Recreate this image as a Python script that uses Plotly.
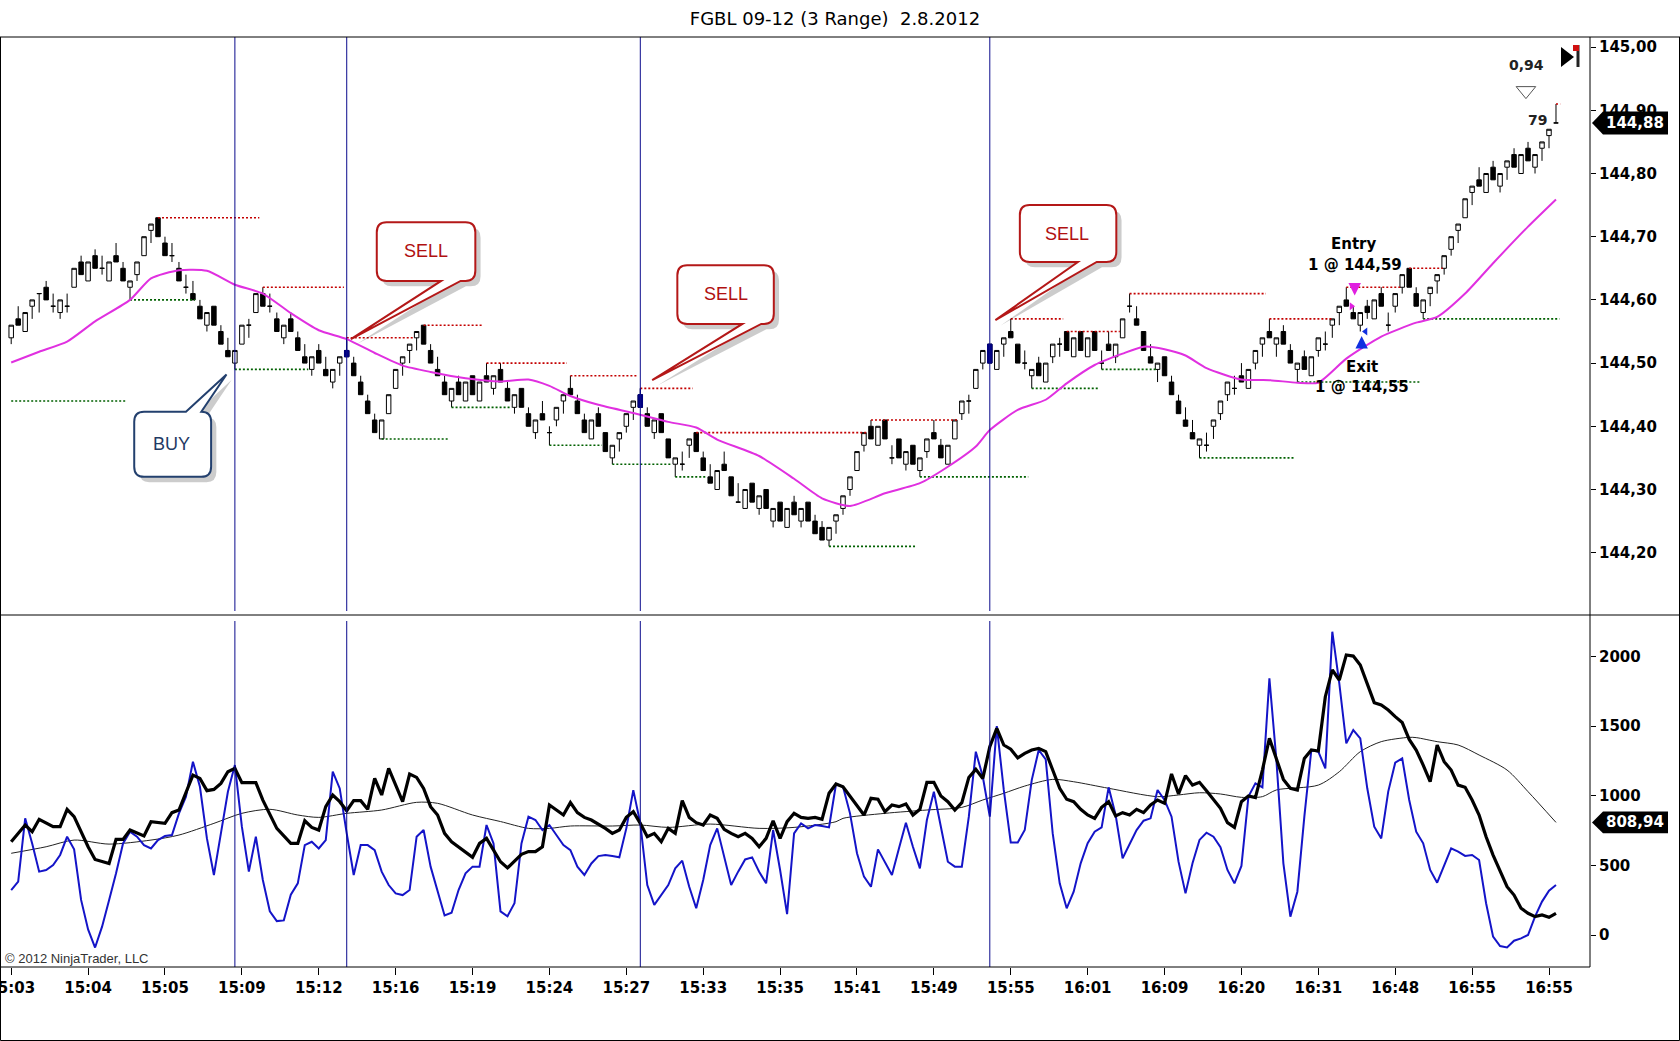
import plotly.graph_objects as go

# ------------------------------------------------------------------ data
BASE = 144.0      # prices stored as hundredths above 144.00
TICK = 0.01

time_labels = ["15:03", "15:04", "15:05", "15:09", "15:12", "15:16", "15:19",
               "15:24", "15:27", "15:33", "15:35", "15:41", "15:49", "15:55",
               "16:01", "16:09", "16:20", "16:31", "16:48", "16:55", "16:55"]
label_bars = list(range(0, 221, 11))

open_t = [54, 57, 55, 59, 61, 62, 59, 58, 59, 62,
          66, 63, 67, 65, 63, 67, 65, 62, 64, 67,
          71, 73, 69, 67, 65, 62, 61, 59, 56, 59,
          55, 52, 50, 53, 56, 58, 61, 59, 57, 54,
          57, 54, 51, 49, 52, 49, 47, 50, 52, 50,
          47, 44, 41, 38, 42, 46, 50, 52, 54, 56,
          52, 49, 47, 44, 47, 44, 48, 44, 48, 46,
          49, 46, 43, 46, 42, 39, 42, 39, 41, 44,
          46, 44, 41, 38, 42, 39, 35, 38, 40, 43,
          45, 42, 39, 42, 38, 34, 34, 37, 39, 35,
          32, 30, 34, 32, 28, 27, 31, 27, 30, 25,
          28, 24, 28, 25, 28, 25, 24, 22, 25, 27,
          30, 33, 37, 40, 37, 41, 35, 38, 34, 37,
          33, 36, 39, 37, 34, 38, 42, 44, 46, 50,
          53, 49, 53, 55, 53, 50, 48, 50, 47, 51,
          53, 55, 51, 55, 51, 55, 50, 53, 51, 54,
          59, 57, 55, 51, 49, 51, 47, 44, 41, 39,
          37, 37, 40, 42, 45, 46, 48, 46, 50, 53,
          55, 53, 55, 52, 49, 51, 48, 52, 53, 56,
          58, 60, 58, 56, 59, 57, 61, 56, 59, 62,
          65, 61, 58, 61, 63, 65, 68, 71, 73, 77,
          79, 77, 81, 78, 81, 83, 80, 84, 81, 84,
          86, 88]
high_t = [56, 59, 58, 60, 61, 63, 61, 60, 61, 65,
          67, 66, 68, 67, 66, 69, 66, 63, 66, 70,
          72, 73, 70, 69, 66, 64, 63, 60, 58, 59,
          56, 54, 52, 56, 57, 61, 62, 61, 58, 56,
          58, 55, 53, 51, 53, 51, 49, 51, 54, 51,
          48, 45, 42, 41, 45, 49, 51, 53, 55, 56,
          53, 51, 48, 46, 48, 47, 48, 47, 50, 48,
          50, 47, 45, 46, 43, 41, 44, 40, 43, 45,
          48, 45, 42, 41, 43, 39, 37, 39, 42, 44,
          46, 43, 41, 42, 38, 35, 36, 38, 39, 36,
          34, 33, 36, 32, 31, 30, 31, 29, 30, 27,
          28, 27, 29, 27, 28, 26, 25, 24, 26, 29,
          32, 36, 39, 41, 40, 41, 37, 38, 36, 37,
          35, 38, 41, 38, 37, 41, 44, 45, 49, 52,
          53, 52, 54, 57, 53, 52, 49, 51, 50, 53,
          54, 55, 54, 55, 54, 55, 52, 55, 53, 57,
          61, 59, 55, 53, 50, 51, 48, 45, 43, 41,
          38, 39, 41, 44, 47, 48, 50, 49, 52, 54,
          57, 54, 56, 53, 50, 52, 51, 54, 55, 57,
          59, 62, 59, 58, 60, 60, 62, 58, 61, 64,
          65, 62, 60, 62, 64, 67, 70, 72, 76, 78,
          81, 80, 82, 80, 82, 84, 83, 85, 83, 85,
          87, 91]
low_t = [53, 56, 55, 57, 58, 60, 58, 57, 58, 62,
         64, 63, 65, 64, 63, 66, 63, 60, 63, 67,
         69, 70, 67, 66, 63, 61, 60, 57, 55, 56,
         53, 51, 49, 53, 54, 58, 59, 58, 55, 53,
         55, 52, 50, 48, 50, 48, 46, 48, 51, 48,
         45, 42, 39, 38, 42, 46, 48, 50, 52, 53,
         50, 48, 45, 43, 45, 44, 45, 44, 47, 45,
         47, 44, 42, 43, 40, 38, 41, 37, 40, 42,
         45, 42, 39, 38, 40, 36, 34, 36, 39, 41,
         43, 40, 38, 39, 35, 32, 33, 35, 36, 33,
         31, 30, 33, 29, 28, 27, 28, 26, 27, 24,
         25, 24, 26, 24, 25, 23, 22, 21, 23, 26,
         29, 33, 36, 38, 37, 38, 34, 35, 33, 34,
         32, 35, 38, 35, 34, 38, 41, 42, 46, 49,
         50, 49, 51, 54, 50, 49, 46, 48, 47, 50,
         51, 52, 51, 52, 51, 52, 49, 52, 50, 54,
         58, 56, 52, 50, 47, 48, 45, 42, 40, 38,
         35, 36, 38, 41, 44, 45, 47, 46, 49, 51,
         54, 51, 53, 50, 47, 49, 48, 51, 52, 54,
         56, 59, 57, 55, 57, 57, 59, 55, 58, 61,
         62, 59, 57, 59, 61, 64, 67, 69, 73, 75,
         78, 77, 79, 77, 79, 81, 80, 82, 80, 82,
         84, 88]
close_t = [56, 56, 58, 60, 61, 60, 59, 60, 59, 65,
           64, 66, 65, 65, 66, 66, 63, 63, 66, 70,
           72, 70, 67, 67, 63, 62, 60, 57, 58, 56,
           53, 51, 52, 56, 56, 61, 59, 59, 55, 56,
           55, 52, 50, 51, 50, 48, 49, 51, 51, 48,
           45, 42, 39, 41, 45, 49, 51, 53, 55, 53,
           50, 48, 45, 46, 45, 47, 45, 47, 47, 48,
           47, 44, 45, 43, 40, 41, 41, 39, 43, 45,
           45, 42, 39, 41, 40, 36, 37, 39, 42, 44,
           43, 40, 41, 39, 35, 35, 34, 38, 36, 33,
           31, 33, 33, 29, 28, 30, 28, 29, 27, 27,
           25, 27, 26, 27, 25, 23, 22, 24, 26, 29,
           32, 36, 39, 38, 40, 38, 35, 35, 36, 34,
           35, 38, 38, 35, 37, 41, 44, 44, 49, 52,
           50, 52, 54, 54, 50, 50, 49, 48, 50, 53,
           53, 52, 54, 52, 54, 52, 50, 52, 53, 57,
           59, 56, 52, 50, 50, 48, 45, 42, 40, 38,
           38, 37, 41, 44, 47, 46, 47, 49, 52, 54,
           54, 54, 53, 50, 50, 49, 51, 54, 53, 57,
           59, 59, 57, 58, 58, 60, 59, 56, 61, 64,
           62, 59, 60, 62, 64, 67, 70, 72, 76, 78,
           78, 80, 79, 80, 82, 81, 83, 82, 83, 85,
           87, 88]
signal_bars = [48, 90, 140]          # sell-signal bars drawn in navy
signal_lines = [32, 48, 90, 140]     # vertical signal lines

# moving average (magenta)
sma_bar = [0, 4, 8, 12, 17, 20, 24, 28, 32, 36, 40, 44, 48, 52, 56, 60, 65, 70,
           74, 77, 80, 84, 89, 94, 98, 101, 107, 112, 116, 120, 125, 130, 134,
           138, 140, 144, 148, 151, 155, 159, 162, 165, 168, 171, 176, 180, 184,
           187, 191, 196, 201, 204, 208, 212, 217, 221]
sma_t = [50.1, 51.8, 53.4, 56.6, 60.0, 63.4, 64.7, 64.6, 62.4, 61.0, 57.9, 55.2,
         53.8, 51.6, 49.6, 48.6, 47.6, 47.1, 47.4, 46.4, 44.8, 43.4, 42.1, 40.7,
         39.8, 37.9, 35.3, 31.7, 28.6, 27.4, 29.4, 31.0, 33.6, 36.8, 39.4, 42.6,
         44.2, 46.8, 49.7, 51.5, 52.6, 52.2, 51.2, 49.2, 47.4, 47.3, 46.9, 46.9,
         50.7, 54.2, 56.4, 57.3, 61.0, 65.8, 71.6, 75.9]

# swing high / low levels (start bar, end bar, price ticks)
hi_start = [21, 36, 48, 59, 68, 80, 90, 98, 123, 143, 151, 160, 180, 191, 200, 221]
hi_end = [35.5, 47.6, 57.6, 67.4, 79.5, 89.5, 97.5, 122.6, 135.3, 150.5, 158.6,
          179.5, 189.1, 198.7, 204.8, 221.6]
hi_t = [73, 62, 54, 56, 50, 48, 46, 39, 41, 57, 55, 61, 57, 62, 65, 91]
lo_start = [0, 17, 32, 53, 63, 77, 86, 95, 117, 130, 146, 156, 170, 184, 202]
lo_end = [16.4, 26.3, 42.5, 62.5, 71.6, 84.5, 94.5, 99.5, 129.5, 145.5, 155.5,
          164, 183.5, 201.5, 221.5]
lo_t = [44, 60, 49, 38, 43, 37, 34, 32, 21, 32, 46, 49, 35, 47, 57]

# lower panel
slow_bar = [0, 2, 3, 4, 6, 7, 8, 9, 11, 12, 14, 15, 16, 17, 19, 20, 22, 23, 24,
            26, 27, 28, 29, 30, 31, 32, 33, 35, 36, 38, 40, 41, 42, 43, 44, 45,
            46, 47, 48, 49, 50, 51, 52, 53, 54, 56, 57, 58, 59, 60, 61, 62, 63,
            66, 67, 68, 70, 71, 73, 74, 75, 76, 77, 79, 80, 81, 82, 83, 85, 86,
            87, 88, 89, 90, 91, 92, 93, 94, 95, 96, 97, 98, 99, 100, 101, 102,
            103, 104, 105, 106, 107, 108, 109, 110, 111, 112, 113, 114, 115,
            116, 117, 118, 119, 120, 121, 122, 123, 124, 125, 126, 127, 128,
            129, 130, 131, 132, 133, 134, 135, 136, 137, 138, 139] + list(range(140, 222))
slow_val = [670, 790, 742, 831, 778, 778, 903, 850, 634, 543, 514, 687, 687, 754,
            711, 814, 802, 879, 898, 1149, 1125, 1037, 1046, 1089, 1173, 1197,
            1094, 1094, 969, 766, 658, 658, 821, 773, 754, 922, 1006, 958, 893,
            965, 965, 903, 1125, 1006, 1197, 958, 1156, 1132, 1053, 922, 862, 730,
            670, 558, 658, 694, 526, 482, 580, 599, 599, 634, 934, 862, 951, 879,
            845, 826, 766, 730, 754, 845, 886, 802, 706, 730, 670, 766, 730, 965,
            845, 807, 790, 862, 838, 759, 730, 706, 730, 694, 634, 694, 821, 694,
            814, 874, 845, 838, 845, 831, 1018, 1085, 1065, 998, 927, 862, 982,
            975, 886, 934, 922, 941, 862, 903, 1097, 1097, 998, 958, 898, 951,
            1132, 1190, 1125,
            1353, 1484, 1365, 1335, 1272, 1305, 1329, 1341, 1317, 1185,
            1054, 975, 958, 903, 862, 838, 917, 958, 855, 879,
            862, 903, 879, 934, 970, 946, 1157, 1013, 1145, 1077,
            1097, 1037, 975, 910, 807, 773, 958, 999, 987, 1185,
            1413, 1257, 1118, 1054, 1042, 1269, 1329, 1322, 1712, 1904,
            1832, 2012, 2004, 1940, 1808, 1669, 1652, 1616, 1569, 1526,
            1405, 1329, 1221, 1101, 1365, 1245, 1185, 1077, 1061, 970,
            862, 706, 574, 455, 347, 287, 192, 156, 132, 144,
            127, 156]
fast_val = [323, 383, 838, 658, 455, 467, 503, 575, 706, 615,
            252, 40, -90, 60, 250, 443, 658, 742, 706, 646,
            622, 682, 711, 718, 874, 993, 1245, 1065, 694, 431,
            730, 1029, 1221, 778, 455, 706, 395, 170, 100, 105,
            290, 371, 646, 670, 622, 682, 1173, 1053, 730, 431,
            646, 646, 610, 455, 359, 299, 287, 323, 706, 754,
            491, 323, 140, 160, 323, 443, 491, 491, 790, 658,
            170, 135, 228, 658, 850, 826, 754, 790, 720, 646,
            610, 491, 431, 514, 567, 575, 567, 558, 766, 1041,
            802, 359, 216, 287, 359, 479, 534, 347, 192, 395,
            646, 766, 563, 359, 455, 543, 558, 455, 371, 754,
            467, 150, 730, 802, 766, 790, 783, 773, 1085, 1065,
            874, 587, 419, 347, 615, 526, 431, 622, 807, 634,
            479, 826, 1029, 778, 526, 491, 491, 850, 1317, 1137,
            850, 1500, 1042, 664, 664, 754, 1113, 1329, 1262, 730,
            371, 192, 311, 515, 659, 742, 773, 1061, 862, 551,
            647, 754, 821, 838, 1042, 970, 850, 527, 299, 515,
            683, 735, 706, 630, 467, 371, 496, 994, 1090, 1061,
            1844, 1257, 515, 132, 311, 850, 1329, 1317, 1197, 2179,
            1808, 1377, 1472, 1413, 1054, 778, 694, 1030, 1238, 1269,
            970, 742, 659, 467, 376, 503, 623, 599, 568, 575,
            539, 228, -12, -79, -89, -41, -24, 0, 132, 240,
            319, 359]
avg_bar = [0, 5, 9, 14, 20, 24, 29, 33, 37, 41, 44, 48, 53, 58, 61, 66, 70, 74,
           77, 80, 86, 90, 94, 100, 107, 112, 118, 119, 125, 131, 136, 139, 142,
           145, 149, 152, 157, 164, 167, 170, 173, 176, 179, 181, 187, 190, 193,
           196, 200, 201, 204, 207, 210, 214, 217, 221]
avg_val = [587, 634, 682, 653, 682, 718, 802, 874, 903, 862, 845, 874, 898, 953,
           946, 862, 815, 766, 766, 783, 783, 790, 773, 797, 766, 773, 814, 838,
           874, 898, 917, 970, 1018, 1070, 1118, 1101, 1054, 994, 1006, 1022,
           1013, 989, 994, 1042, 1077, 1173, 1317, 1389, 1420, 1418, 1389, 1365,
           1293, 1185, 1030, 808.94]

price_ticks = [144.2, 144.3, 144.4, 144.5, 144.6, 144.7, 144.8, 144.9, 145.0]
price_tick_text = ["144,20", "144,30", "144,40", "144,50", "144,60", "144,70",
                   "144,80", "144,90", "145,00"]
ind_ticks = [0, 500, 1000, 1500, 2000]

entry_bar, entry_price = 192, 144.59
exit_bar, exit_price = 193, 144.55

# ------------------------------------------------------------------ geometry
W, H = 1680, 1041
ML, MR, MT, MB = 1, 90, 37, 74
PW, PH = W - ML - MR, H - MT - MB


def pxx(px):
    return (px - ML) / PW


def pxy(py):
    return (H - MB - py) / PH


SPLIT = pxy(615)
X_RANGE = [-1.459, 225.866]
Y_RANGE = [144.1014, 145.0160]
Y2_RANGE = [-229.9, 2298.9]


def p(t):
    return BASE + t * TICK


bars = list(range(len(open_t)))
O = [p(t) for t in open_t]
Hh = [p(t) for t in high_t]
L = [p(t) for t in low_t]
C = [p(t) for t in close_t]

fig = go.Figure()


def seg_xy(starts, ends, ticks):
    xs, ys = [], []
    for s, e, t in zip(starts, ends, ticks):
        xs += [s, e, None]
        ys += [p(t), p(t), None]
    return xs, ys


hx, hy = seg_xy(hi_start, hi_end, hi_t)
lx, ly = seg_xy(lo_start, lo_end, lo_t)
fig.add_trace(go.Scatter(x=hx, y=hy, mode="lines", yaxis="y",
                         line=dict(color="#C40000", width=1.6, dash="2px,2px"),
                         hoverinfo="skip"))
fig.add_trace(go.Scatter(x=lx, y=ly, mode="lines", yaxis="y",
                         line=dict(color="#006000", width=1.6, dash="2px,2px"),
                         hoverinfo="skip"))

fig.add_trace(go.Candlestick(
    x=bars, open=O, high=Hh, low=L, close=C, yaxis="y",
    increasing=dict(line=dict(color="black", width=1), fillcolor="white"),
    decreasing=dict(line=dict(color="black", width=1), fillcolor="black"),
    whiskerwidth=0, hoverinfo="skip"))
fig.add_trace(go.Candlestick(
    x=signal_bars, open=[O[i] for i in signal_bars], high=[Hh[i] for i in signal_bars],
    low=[L[i] for i in signal_bars], close=[C[i] for i in signal_bars], yaxis="y",
    increasing=dict(line=dict(color="#000080", width=1), fillcolor="#000080"),
    decreasing=dict(line=dict(color="#000080", width=1), fillcolor="#000080"),
    whiskerwidth=0, hoverinfo="skip"))

fig.add_trace(go.Scatter(x=sma_bar, y=[p(t) for t in sma_t], mode="lines", yaxis="y",
                         line=dict(color="#E030E0", width=2, shape="spline", smoothing=0.6),
                         hoverinfo="skip"))

# execution markers
fig.add_trace(go.Scatter(x=[entry_bar - 0.25], y=[entry_price], mode="markers", yaxis="y",
                         marker=dict(symbol="triangle-right", size=7, color="#E020E0"),
                         hoverinfo="skip"))
fig.add_trace(go.Scatter(x=[exit_bar + 0.75], y=[exit_price], mode="markers", yaxis="y",
                         marker=dict(symbol="triangle-left", size=7, color="#1030E0"),
                         hoverinfo="skip"))

# lower panel
fig.add_trace(go.Scatter(x=avg_bar, y=avg_val, mode="lines", yaxis="y2",
                         line=dict(color="#222222", width=1, shape="spline", smoothing=0.8),
                         hoverinfo="skip"))
fig.add_trace(go.Scatter(x=bars, y=fast_val, mode="lines", yaxis="y2",
                         line=dict(color="#1414C8", width=2), hoverinfo="skip"))
fig.add_trace(go.Scatter(x=slow_bar, y=slow_val, mode="lines", yaxis="y2",
                         line=dict(color="black", width=3.2), hoverinfo="skip"))

shapes = []
annotations = []

for b in signal_lines:
    shapes.append(dict(type="line", xref="x", yref="paper", x0=b, x1=b,
                       y0=pxy(611), y1=1, line=dict(color="#0A0A8C", width=1)))
    shapes.append(dict(type="line", xref="x", yref="paper", x0=b, x1=b,
                       y0=0, y1=pxy(621), line=dict(color="#0A0A8C", width=1)))

frame = dict(color="black", width=1)
shapes += [
    dict(type="line", xref="paper", yref="paper", x0=pxx(0), x1=pxx(1680), y0=1, y1=1, line=frame),
    dict(type="line", xref="paper", yref="paper", x0=pxx(0), x1=pxx(1680), y0=SPLIT, y1=SPLIT, line=frame),
    dict(type="line", xref="paper", yref="paper", x0=pxx(0), x1=1, y0=0, y1=0, line=frame),
    dict(type="line", xref="paper", yref="paper", x0=1, x1=1, y0=0, y1=1, line=frame),
    dict(type="line", xref="paper", yref="paper", x0=pxx(0.5), x1=pxx(0.5), y0=pxy(1040.5), y1=1, line=frame),
    dict(type="line", xref="paper", yref="paper", x0=pxx(1679.5), x1=pxx(1679.5), y0=pxy(1040.5), y1=1, line=frame),
    dict(type="line", xref="paper", yref="paper", x0=pxx(0.5), x1=pxx(1679.5), y0=pxy(1040.5), y1=pxy(1040.5), line=frame),
]


def bubble(x0, x1, yb, yt, ba, bb, tx, ty, edge, dx=0.0, dy=0.0):
    rx, ry = 1.4, 0.016
    x0, x1, ba, bb, tx = x0 + dx, x1 + dx, ba + dx, bb + dx, tx + dx
    yb, yt, ty = yb + dy, yt + dy, ty + dy
    if edge == "bottom":
        d = (f"M {x0+rx},{yt} L {x1-rx},{yt} Q {x1},{yt} {x1},{yt-ry} "
             f"L {x1},{yb+ry} Q {x1},{yb} {x1-rx},{yb} L {bb},{yb} L {tx},{ty} "
             f"L {ba},{yb} L {x0+rx},{yb} Q {x0},{yb} {x0},{yb+ry} "
             f"L {x0},{yt-ry} Q {x0},{yt} {x0+rx},{yt} Z")
    else:
        d = (f"M {x0+rx},{yt} L {ba},{yt} L {tx},{ty} L {bb},{yt} L {x1-rx},{yt} "
             f"Q {x1},{yt} {x1},{yt-ry} L {x1},{yb+ry} Q {x1},{yb} {x1-rx},{yb} "
             f"L {x0+rx},{yb} Q {x0},{yb} {x0},{yb+ry} L {x0},{yt-ry} "
             f"Q {x0},{yt} {x0+rx},{yt} Z")
    return d


callouts = [
    (52.3, 66.4, 144.630, 144.723, 61.5, 64.3, 48.6, 144.538, "bottom", "SELL", (59.3, 144.677), "#B41818", "#B01010"),
    (95.3, 109.1, 144.562, 144.655, 104.6, 107.3, 91.7, 144.473, "bottom", "SELL", (102.2, 144.609), "#B41818", "#B01010"),
    (144.3, 158.1, 144.660, 144.750, 152.6, 155.3, 140.8, 144.568, "bottom", "SELL", (151.1, 144.705), "#B41818", "#B01010"),
    (17.6, 28.6, 144.320, 144.423, 25.0, 27.2, 30.8, 144.482, "top", "BUY", (22.9, 144.372), "#23406E", "#1F3A64"),
]
for (x0, x1, yb, yt, ba, bb, tx, ty, edge, txt, ctr, lc, tc) in callouts:
    shapes.append(dict(type="path", xref="x", yref="y", layer="above",
                       path=bubble(x0, x1, yb, yt, ba, bb, tx, ty, edge, dx=0.75, dy=-0.0085),
                       fillcolor="rgba(0,0,0,0.2)", line=dict(width=0)))
    shapes.append(dict(type="path", xref="x", yref="y", layer="above",
                       path=bubble(x0, x1, yb, yt, ba, bb, tx, ty, edge),
                       fillcolor="white", line=dict(color=lc, width=2)))
    annotations.append(dict(x=ctr[0], y=ctr[1], xref="x", yref="y", text=txt, showarrow=False,
                            xanchor="center", yanchor="middle",
                            font=dict(family="Liberation Sans, Arial", size=18, color=tc)))

# last price / last value markers
last_price = C[-1]
h1 = 11.5 / 632
shapes.append(dict(type="path", xref="paper", yref="y", layer="above", fillcolor="black",
                   line=dict(width=0),
                   path=(f"M {pxx(1592)},{last_price} L {pxx(1603)},{last_price+h1} "
                         f"L {pxx(1668)},{last_price+h1} L {pxx(1668)},{last_price-h1} "
                         f"L {pxx(1603)},{last_price-h1} Z")))
annotations.append(dict(x=pxx(1635), y=last_price, xref="paper", yref="y",
                        xanchor="center", yanchor="middle",
                        text=f"{last_price:.2f}".replace(".", ","), showarrow=False,
                        font=dict(family="DejaVu Sans", size=15, color="white", weight="bold")))
last_avg = avg_val[-1]
h2 = 10.8 / 0.1392
shapes.append(dict(type="path", xref="paper", yref="y2", layer="above", fillcolor="black",
                   line=dict(width=0),
                   path=(f"M {pxx(1592)},{last_avg} L {pxx(1603)},{last_avg+h2} "
                         f"L {pxx(1668)},{last_avg+h2} L {pxx(1668)},{last_avg-h2} "
                         f"L {pxx(1603)},{last_avg-h2} Z")))
annotations.append(dict(x=pxx(1635), y=last_avg, xref="paper", yref="y2",
                        xanchor="center", yanchor="middle",
                        text=f"{last_avg:.2f}".replace(".", ","), showarrow=False,
                        font=dict(family="DejaVu Sans", size=15, color="white", weight="bold")))

bold = dict(family="DejaVu Sans", size=15, color="black", weight="bold")
annotations += [
    dict(x=entry_bar, y=144.6885, xref="x", yref="y", text="Entry", showarrow=False,
         xanchor="center", font=bold),
    dict(x=entry_bar + 0.2, y=144.655, xref="x", yref="y", text="1 @ 144,59", showarrow=False,
         xanchor="center", font=bold),
    dict(x=exit_bar + 0.2, y=144.494, xref="x", yref="y", text="Exit", showarrow=False,
         xanchor="center", font=bold),
    dict(x=exit_bar + 0.2, y=144.4625, xref="x", yref="y", text="1 @ 144,55", showarrow=False,
         xanchor="center", font=bold),
    dict(x=entry_bar + 0.2, y=144.607, xref="x", yref="y", text="", showarrow=True, ax=0, ay=-13,
         arrowhead=2, arrowsize=1, arrowwidth=2.5, arrowcolor="#E020E0"),
    dict(x=exit_bar + 0.2, y=144.543, xref="x", yref="y", text="", showarrow=True, ax=0, ay=14,
         arrowhead=2, arrowsize=1, arrowwidth=2.5, arrowcolor="#1030E0"),
    dict(x=216.8, y=144.972, xref="x", yref="y", text="0,94", showarrow=False, xanchor="center",
         font=dict(family="DejaVu Sans", size=14, color="#222222", weight="bold")),
    dict(x=218.4, y=144.884, xref="x", yref="y", text="79", showarrow=False, xanchor="center",
         font=dict(family="DejaVu Sans", size=14, color="#222222", weight="bold")),
    dict(x=pxx(3), y=pxy(958), xref="paper", yref="paper", text="© 2012 NinjaTrader, LLC",
         showarrow=False, xanchor="left", yanchor="middle",
         font=dict(family="Liberation Sans Narrow, Liberation Sans", size=13, color="#333333")),
]
shapes.append(dict(type="path", xref="x", yref="y", layer="above", line=dict(color="#555555", width=1),
                   path="M 215.3,144.9375 L 218.1,144.9375 L 216.7,144.9185 Z"))
shapes += [
    dict(type="path", xref="paper", yref="paper", layer="above", fillcolor="black", line=dict(width=0),
         path=f"M {pxx(1561)},{pxy(47)} L {pxx(1574)},{pxy(57)} L {pxx(1561)},{pxy(67)} Z"),
    dict(type="line", xref="paper", yref="paper", x0=pxx(1578), x1=pxx(1578), y0=pxy(67), y1=pxy(45),
         line=dict(color="#222222", width=3)),
    dict(type="rect", xref="paper", yref="paper", x0=pxx(1573), x1=pxx(1579), y0=pxy(51), y1=pxy(45),
         fillcolor="#D01010", line=dict(width=0)),
]

tickfont = dict(family="DejaVu Sans", size=15, color="black", weight="bold")
fig.update_layout(
    width=W, height=H,
    margin=dict(l=ML, r=MR, t=MT, b=MB, pad=0, autoexpand=False),
    paper_bgcolor="white", plot_bgcolor="white",
    showlegend=False, hovermode=False,
    boxgap=0.2, boxgroupgap=0.2,
    title=dict(text="FGBL 09-12 (3 Range)  2.8.2012", x=0.497, xanchor="center",
               y=1 - 18.5 / H, yanchor="middle",
               font=dict(family="DejaVu Sans", size=18, color="black")),
    xaxis=dict(range=X_RANGE, anchor="y2", showgrid=False, zeroline=False, showline=False,
               tickvals=label_bars, ticktext=time_labels, ticks="outside", ticklen=7,
               tickcolor="black", tickfont=tickfont, rangeslider=dict(visible=False),
               ticklabeloverflow="allow", automargin=False, fixedrange=True),
    yaxis=dict(domain=[SPLIT, 1], range=Y_RANGE, anchor="x", side="right", showgrid=False,
               zeroline=False, showline=False, tickvals=price_ticks, ticktext=price_tick_text,
               ticks="outside", ticklen=5, tickcolor="black", tickfont=tickfont,
               automargin=False, fixedrange=True),
    yaxis2=dict(domain=[0, SPLIT], range=Y2_RANGE, anchor="x", side="right", showgrid=False,
                zeroline=False, showline=False, tickvals=ind_ticks,
                ticktext=[str(v) for v in ind_ticks], ticks="outside", ticklen=5,
                tickcolor="black", tickfont=tickfont, automargin=False, fixedrange=True),
    shapes=shapes, annotations=annotations,
)

fig.write_html("out.html", config={"displayModeBar": False},
               post_script="document.body.style.margin='0';document.body.style.overflow='hidden';")
